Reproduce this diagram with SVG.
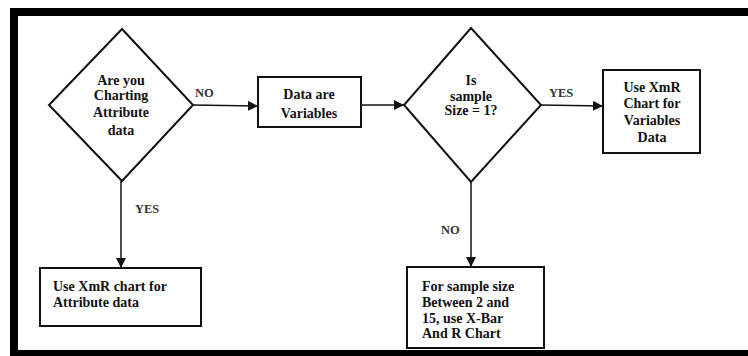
<svg xmlns="http://www.w3.org/2000/svg" width="748" height="356" viewBox="0 0 748 356">
<style>
.shape{fill:#fff;stroke:#111;stroke-width:2}
.t{font-family:"Liberation Serif","Times New Roman",serif;font-weight:bold;font-size:14px;fill:#111}
.c{text-anchor:middle}
.lbl{font-family:"Liberation Serif","Times New Roman",serif;font-weight:bold;font-size:12.5px;fill:#333}
.edge{stroke:#111;stroke-width:1.5;fill:none;marker-end:url(#ah)}
</style>
<defs>
<marker id="ah" viewBox="0 0 10 10" refX="10" refY="5" markerWidth="10" markerHeight="10" markerUnits="userSpaceOnUse" orient="auto">
<path d="M0,0 L10,5 L0,10 z" fill="#111"/>
</marker>
</defs>
<rect x="0" y="0" width="748" height="356" fill="#fff"/>
<g id="frame">
<rect x="10" y="8" width="738" height="8" fill="#000"/>
<rect x="10" y="8" width="8" height="348" fill="#000"/>
<rect x="10" y="350" width="738" height="6" fill="#000"/>
</g>
<g id="connectors">
<path class="edge" d="M193,105 L258,106"/>
<path class="edge" d="M361,105 L404,105"/>
<path class="edge" d="M541,105 L603,106"/>
<path class="edge" d="M121,181 L121,268"/>
<path class="edge" d="M471,182 L471,267"/>
<text class="lbl" x="195" y="97">NO</text>
<text class="lbl" x="549" y="97">YES</text>
<text class="lbl" x="135" y="213">YES</text>
<text class="lbl" x="441" y="234">NO</text>
</g>
<g id="d1">
<polygon class="shape" points="122,29 193,105 122,181 49,105"/>
<text class="t c" x="121" y="85">Are you</text>
<text class="t c" x="121" y="100">Charting</text>
<text class="t c" x="121" y="117">Attribute</text>
<text class="t c" x="121" y="135">data</text>
</g>
<g id="b1">
<rect class="shape" x="258" y="77" width="103" height="50"/>
<text class="t c" x="309" y="99">Data are</text>
<text class="t c" x="309" y="118">Variables</text>
</g>
<g id="d2">
<polygon class="shape" points="471,28 541,105 471,182 404,105"/>
<text class="t c" x="471" y="85">Is</text>
<text class="t c" x="471" y="101">sample</text>
<text class="t c" x="471" y="115">Size = 1?</text>
</g>
<g id="b2">
<rect class="shape" x="603" y="70" width="97" height="83"/>
<text class="t c" x="652" y="92">Use XmR</text>
<text class="t c" x="652" y="108">Chart for</text>
<text class="t c" x="652" y="125">Variables</text>
<text class="t c" x="652" y="142">Data</text>
</g>
<g id="b3">
<rect class="shape" x="40" y="268" width="161" height="58"/>
<text class="t" x="53" y="291">Use XmR chart for</text>
<text class="t" x="53" y="307">Attribute data</text>
</g>
<g id="b4">
<rect class="shape" x="407" y="267" width="137" height="81"/>
<text class="t" x="422" y="291">For sample size</text>
<text class="t" x="422" y="307">Between 2 and</text>
<text class="t" x="422" y="323">15, use X-Bar</text>
<text class="t" x="422" y="338">And R Chart</text>
</g>
</svg>
